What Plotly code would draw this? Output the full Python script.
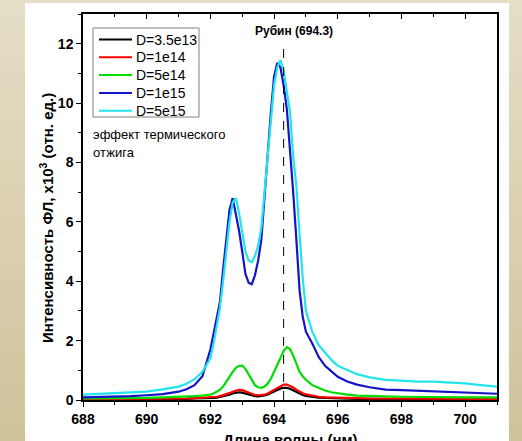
import plotly.graph_objects as go

# Photoluminescence spectra of Cr3+ (R-lines) after implantation with different doses
wavelength_nm = [
    688.0, 688.5, 689.0, 689.5, 690.0, 690.5, 691.0, 691.25, 691.5, 691.75,
    692.0, 692.1, 692.2, 692.3, 692.4, 692.5, 692.6, 692.7, 692.8, 692.9,
    693.0, 693.1, 693.2, 693.3, 693.4, 693.5, 693.6, 693.7, 693.8, 693.9,
    694.0, 694.1, 694.2, 694.3, 694.4, 694.5, 694.6, 694.7, 694.8, 694.9,
    695.0, 695.2, 695.4, 695.6, 695.8, 696.0, 696.3, 696.6, 697.0, 697.5,
    698.0, 698.5, 699.0, 699.5, 700.0, 700.5, 701.0,
]

dose_labels = ["D=3.5e13", "D=1e14", "D=5e14", "D=1e15", "D=5e15"]

pl_d35e13 = [
    0.02, 0.02, 0.02, 0.03, 0.03, 0.03, 0.04, 0.04, 0.05, 0.05,
    0.06, 0.07, 0.08, 0.10, 0.12, 0.15, 0.18, 0.22, 0.25, 0.26,
    0.25, 0.22, 0.18, 0.15, 0.13, 0.12, 0.13, 0.15, 0.19, 0.24,
    0.30, 0.35, 0.39, 0.41, 0.41, 0.38, 0.33, 0.27, 0.21, 0.17,
    0.14, 0.10, 0.08, 0.07, 0.06, 0.05, 0.04, 0.04, 0.04, 0.03,
    0.03, 0.03, 0.03, 0.03, 0.03, 0.03, 0.03,
]

pl_d1e14 = [
    0.03, 0.03, 0.03, 0.04, 0.04, 0.04, 0.05, 0.05, 0.06, 0.07,
    0.08, 0.09, 0.11, 0.13, 0.16, 0.19, 0.23, 0.28, 0.32, 0.34,
    0.33, 0.29, 0.24, 0.20, 0.17, 0.16, 0.16, 0.18, 0.22, 0.28,
    0.35, 0.42, 0.48, 0.52, 0.52, 0.48, 0.42, 0.35, 0.28, 0.23,
    0.19, 0.14, 0.11, 0.09, 0.08, 0.07, 0.06, 0.06, 0.05, 0.05,
    0.05, 0.05, 0.05, 0.04, 0.04, 0.04, 0.04,
]

pl_d5e14 = [
    0.05, 0.05, 0.06, 0.06, 0.07, 0.09, 0.10, 0.12, 0.13, 0.15,
    0.18, 0.22, 0.28, 0.35, 0.45, 0.60, 0.78, 0.95, 1.08, 1.15,
    1.16, 1.05, 0.85, 0.65, 0.50, 0.43, 0.41, 0.45, 0.55, 0.72,
    0.95, 1.20, 1.45, 1.65, 1.78, 1.72, 1.50, 1.20, 0.95, 0.80,
    0.68, 0.50, 0.40, 0.32, 0.26, 0.22, 0.18, 0.15, 0.13, 0.12,
    0.11, 0.10, 0.10, 0.09, 0.09, 0.09, 0.09,
]

pl_d1e15 = [
    0.09, 0.10, 0.11, 0.13, 0.16, 0.20, 0.28, 0.36, 0.50, 0.80,
    1.70, 2.20, 2.80, 3.30, 4.40, 5.40, 6.40, 6.80, 6.30, 5.70,
    5.00, 4.25, 3.95, 3.90, 4.20, 4.70, 5.40, 6.90, 8.30, 9.70,
    10.90, 11.35, 11.20, 10.60, 9.80, 8.50, 7.00, 5.40, 3.70, 2.80,
    2.30, 1.90, 1.45, 1.15, 0.98, 0.78, 0.62, 0.52, 0.43, 0.35,
    0.33, 0.31, 0.28, 0.26, 0.23, 0.22, 0.21,
]

pl_d5e15 = [
    0.18, 0.20, 0.22, 0.25, 0.28, 0.36, 0.45, 0.55, 0.70, 0.95,
    1.40, 1.90, 2.50, 3.10, 4.00, 5.00, 6.00, 6.65, 6.80, 6.30,
    5.60, 5.00, 4.70, 4.64, 4.85, 5.20, 5.80, 7.00, 8.30, 9.60,
    10.60, 11.20, 11.45, 11.10, 10.40, 9.70, 8.20, 7.20, 5.60, 4.10,
    3.00, 2.30, 1.85, 1.60, 1.35, 1.15, 1.00, 0.87, 0.76, 0.68,
    0.65, 0.62, 0.62, 0.60, 0.56, 0.50, 0.45,
]

ruby_line_nm = 694.3

series = [pl_d35e13, pl_d1e14, pl_d5e14, pl_d1e15, pl_d5e15]
colors = ["#000000", "#ff0000", "#00dd00", "#1414c8", "#22e4ec"]

FONT = "Liberation Sans, Arial, sans-serif"

# plot-area geometry in page pixels (used to place paper-referenced decorations)
L, R, T, B = 83, 497, 14, 400


def px_x(p):
    return (p - L) / (R - L)


def px_y(p):
    return (B - p) / (B - T)


fig = go.Figure()
for name, vals, col in zip(dose_labels, series, colors):
    fig.add_trace(go.Scatter(
        x=wavelength_nm, y=vals, name=name, mode="lines",
        line=dict(color=col, width=2.2), showlegend=False,
    ))

# empty trace to register the top axis (inward ticks)
fig.add_trace(go.Scatter(x=[], y=[], xaxis="x2", yaxis="y", showlegend=False,
                         hoverinfo="skip"))

# page background: soft beige vertical gradient with a white panel
shapes = []
n_bands = 30
top_rgb = (229, 222, 198)
bot_rgb = (208, 195, 156)
y_lo, y_hi = px_y(441), px_y(0)
for i in range(n_bands):
    t = i / (n_bands - 1)
    r = round(top_rgb[0] + (bot_rgb[0] - top_rgb[0]) * t)
    g = round(top_rgb[1] + (bot_rgb[1] - top_rgb[1]) * t)
    b = round(top_rgb[2] + (bot_rgb[2] - top_rgb[2]) * t)
    y1 = y_hi - (y_hi - y_lo) * i / n_bands
    y0 = y_hi - (y_hi - y_lo) * (i + 1) / n_bands
    shapes.append(dict(type="rect", xref="paper", yref="paper",
                       x0=px_x(-5), x1=px_x(530), y0=y0 - 0.002, y1=y1 + 0.002,
                       fillcolor=f"rgb({r},{g},{b})", line=dict(width=0),
                       layer="below"))
shapes.append(dict(type="rect", xref="paper", yref="paper",
                   x0=px_x(25), x1=px_x(509), y0=px_y(445), y1=px_y(3),
                   fillcolor="white", line=dict(width=0), layer="below"))
# ruby reference line
shapes.append(dict(type="line", xref="x", yref="paper",
                   x0=ruby_line_nm, x1=ruby_line_nm, y0=0, y1=px_y(40),
                   line=dict(color="black", width=1, dash="dash")))

annotations = [
    dict(text="Рубин (694.3)", xref="x", yref="paper", x=ruby_line_nm, y=px_y(31),
         xshift=10, showarrow=False, xanchor="center", yanchor="middle",
         font=dict(family=FONT, size=12, color="black", weight="bold")),
    dict(text="эффект термического", xref="paper", yref="paper", x=px_x(90.5), y=px_y(134.5),
         showarrow=False, xanchor="left", yanchor="middle",
         font=dict(family=FONT, size=13, color="black")),
    dict(text="отжига", xref="paper", yref="paper", x=px_x(90.5), y=px_y(153),
         showarrow=False, xanchor="left", yanchor="middle",
         font=dict(family=FONT, size=13, color="black")),
    dict(text="Интенсивность ФЛ, x10<sup>3</sup> (отн. ед.)", xref="paper", yref="paper",
         x=px_x(46), y=px_y(218), textangle=-90, showarrow=False,
         xanchor="center", yanchor="middle",
         font=dict(family=FONT, size=15, color="black", weight="bold")),
    dict(text="Длина волны (нм)", xref="paper", yref="paper",
         x=0.5, y=px_y(440), showarrow=False, xanchor="center", yanchor="middle",
         font=dict(family=FONT, size=15, color="black", weight="bold")),
]

# legend box with line samples and labels
shapes.append(dict(type="rect", xref="paper", yref="paper",
                   x0=px_x(93), x1=px_x(199), y0=px_y(117), y1=px_y(28),
                   fillcolor="white", line=dict(color="#808080", width=1)))
for k, (name, col) in enumerate(zip(dose_labels, colors)):
    yy = 39.5 + k * 17.8
    shapes.append(dict(type="line", xref="paper", yref="paper",
                       x0=px_x(99), x1=px_x(132), y0=px_y(yy), y1=px_y(yy),
                       line=dict(color=col, width=2)))
    annotations.append(dict(text=name, xref="paper", yref="paper",
                            x=px_x(134), y=px_y(yy), showarrow=False,
                            xanchor="left", yanchor="middle",
                            font=dict(family=FONT, size=14, color="black")))

fig.update_layout(
    width=522, height=441,
    margin=dict(l=L, r=522 - R, t=T, b=441 - B),
    paper_bgcolor="rgb(220,210,178)",
    plot_bgcolor="white",
    font=dict(family=FONT, color="black"),
    shapes=shapes,
    annotations=annotations,
    showlegend=False,
    xaxis=dict(
        range=[688, 701], tick0=688, dtick=2,
        ticks="outside", ticklen=5, tickwidth=1.2, tickcolor="black",
        minor=dict(dtick=1, ticks="outside", ticklen=3, tickwidth=1.2, tickcolor="black"),
        showline=True, linecolor="black", linewidth=1.5, mirror=True,
        showgrid=False, zeroline=False,
        tickfont=dict(family=FONT, size=14, color="black", weight="bold"),
    ),
    xaxis2=dict(
        overlaying="x", side="top", range=[688, 701], tick0=688, dtick=2,
        ticks="inside", ticklen=5, tickwidth=1.2, tickcolor="black",
        minor=dict(dtick=1, ticks="inside", ticklen=3, tickwidth=1.2, tickcolor="black"),
        showticklabels=False, showline=False, showgrid=False, zeroline=False,
    ),
    yaxis=dict(
        range=[0, 13], tick0=0, dtick=2,
        ticks="outside", ticklen=5, tickwidth=1.2, tickcolor="black",
        minor=dict(dtick=1, ticks="outside", ticklen=3, tickwidth=1.2, tickcolor="black"),
        showline=True, linecolor="black", linewidth=1.5, mirror=True,
        showgrid=False, zeroline=False,
        tickfont=dict(family=FONT, size=14, color="black", weight="bold"),
    ),
)

fig.write_html("out.html")
